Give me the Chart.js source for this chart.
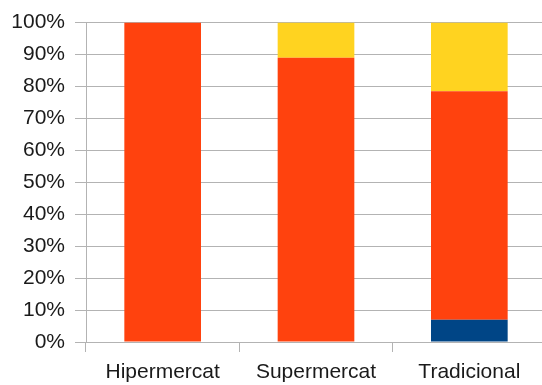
<!DOCTYPE html>
<html>
<head>
<meta charset="utf-8">
<script src="https://cdn.jsdelivr.net/npm/chart.js@4"></script>
<style>
  html, body { margin: 0; padding: 0; background: #fff; overflow: hidden; }
  #wrap { width: 546px; height: 385px; }
</style>
</head>
<body>
<div id="wrap"><canvas id="graph"></canvas></div>
<script>
// categories and shares (%) per channel
const categories = ['Hipermercat', 'Supermercat', 'Tradicional'];
const serie1 = [0, 0, 7];        // blue, bottom
const serie2 = [100, 89, 71.5];  // orange
const serie3 = [0, 11, 21.5];    // yellow, top
const yTicks = [0, 10, 20, 30, 40, 50, 60, 70, 80, 90, 100];

Chart.defaults.font.family = '"Liberation Sans", Arial, sans-serif';
Chart.defaults.font.size = 21;
Chart.defaults.color = '#1a1a1a';

let ctx = document.getElementById('graph').getContext('2d');
let chart = new Chart(ctx, {
    type: 'bar',
    data: {
        labels: categories,
        datasets: [
            { label: 'Sèrie 1', data: serie1, backgroundColor: '#004586' },
            { label: 'Sèrie 2', data: serie2, backgroundColor: '#ff420e' },
            { label: 'Sèrie 3', data: serie3, backgroundColor: '#ffd320' }
        ]
    },
    options: {
        responsive: true,
        maintainAspectRatio: false,
        animation: false,
        barPercentage: 0.5,
        categoryPercentage: 1,
        layout: { padding: { top: 8, left: 0, right: 0, bottom: 0 } },
        plugins: {
            legend: { display: false },
            tooltip: { enabled: false }
        },
        scales: {
            x: {
                stacked: true,
                afterFit: function(axis) { axis.height = 43; },
                grid: {
                    offset: true,
                    drawOnChartArea: false,
                    drawTicks: true,
                    tickLength: 10,
                    color: '#b3b3b3',
                    lineWidth: 1
                },
                border: { display: false },
                ticks: { padding: 8 }
            },
            y: {
                stacked: true,
                min: 0,
                max: 100,
                afterFit: function(axis) { axis.width = 86; },
                afterBuildTicks: function(axis) {
                    axis.ticks = yTicks.map(v => ({ value: v }));
                },
                grid: {
                    color: '#b3b3b3',
                    tickLength: 11,
                    lineWidth: 1
                },
                border: { display: true, color: '#b3b3b3' },
                ticks: {
                    padding: 10,
                    callback: v => v + '%'
                }
            }
        }
    }
});
</script>
</body>
</html>
